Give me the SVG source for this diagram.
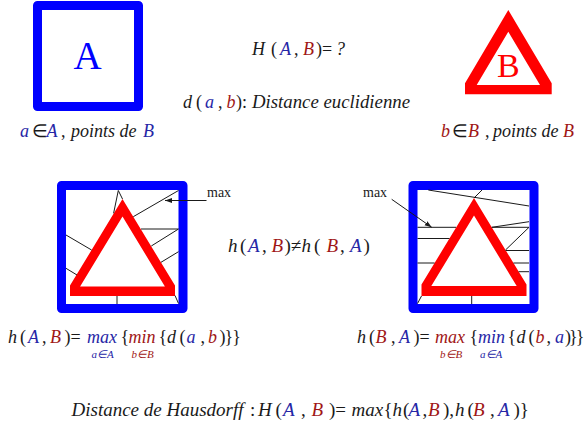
<svg xmlns="http://www.w3.org/2000/svg" width="586" height="425" viewBox="0 0 586 425">
<style>
.m{font-family:"Liberation Serif","Times New Roman",serif;font-style:italic;font-size:18px;fill:#1a1a1a}
.big{font-size:19px}
.s{font-size:11px}
.u{font-style:normal}
.bl{fill:#2626a6}
.rd{fill:#a01616}
.sq{fill:none;stroke:#0000ff;stroke-width:9;stroke-linejoin:round}
.tri{fill:#ff0000;fill-rule:evenodd}
.ln{stroke:#1a1a1a;stroke-width:1;fill:none}
.lbl{font-family:"Liberation Serif","Times New Roman",serif;font-size:14px;fill:#1a1a1a}
</style>
<defs>
<marker id="ah" markerUnits="userSpaceOnUse" markerWidth="8" markerHeight="6" refX="7" refY="2.5" orient="auto">
<path d="M0,0 L7,2.5 L0,5 Z" fill="#1a1a1a"/>
</marker>
</defs>

<g id="setA">
<rect class="sq" x="37.5" y="5.5" width="101" height="101"/>
<text x="87.5" y="69" text-anchor="middle" font-family="Liberation Serif, serif" font-size="39" fill="#0000ff">A</text>
</g>

<g id="setB">
<path class="tri" d="M508.3,10 L551.7,83.3 L551.7,94.3 L465,94.3 L465,83.3 Z M508.3,31.7 L540,85 L476.7,85 Z"/>
<text x="508.3" y="76.7" text-anchor="middle" font-family="Liberation Serif, serif" font-size="34" fill="#ff0000">B</text>
</g>

<g id="hAB-figure">
<rect class="sq" x="61.5" y="185.5" width="121.5" height="123"/>
<path class="tri" d="M122.5,199 L175,285.6 L175,296 L70,296 L70,285.6 Z M122.5,216.5 L164.9,286.5 L80.1,286.5 Z"/>
<text class="lbl" x="207" y="197">max</text>
</g>

<g id="hBA-figure">
<rect class="sq" x="413" y="185.5" width="121" height="123"/>
<path class="tri" d="M474,198 L526.5,284.6 L526.5,296 L421.5,296 L421.5,284.6 Z M474,215.5 L516.7,286 L431.3,286 Z"/>
<text class="lbl" x="363" y="197">max</text>
</g>

<g id="connectors">
<line class="ln" x1="118.3" y1="190.5" x2="122.5" y2="199"/>
<line class="ln" x1="118.3" y1="190.5" x2="113.6" y2="213.3"/>
<line class="ln" x1="178.5" y1="190.5" x2="133.3" y2="216.7"/>
<line class="ln" x1="141" y1="229" x2="178.5" y2="229"/>
<line class="ln" x1="178.5" y1="229" x2="151.3" y2="246"/>
<line class="ln" x1="178.5" y1="251.7" x2="161" y2="262.3"/>
<line class="ln" x1="175" y1="295.5" x2="178.5" y2="303.5"/>
<line class="ln" x1="117" y1="296" x2="117" y2="304"/>
<line class="ln" x1="66" y1="235" x2="91.6" y2="250"/>
<line class="ln" x1="66" y1="268.3" x2="77" y2="275"/>
<line class="ln" x1="206.5" y1="200.5" x2="165" y2="200.5" marker-end="url(#ah)"/>

<line class="ln" x1="428.3" y1="190" x2="529" y2="206"/>
<line class="ln" x1="474" y1="198" x2="482" y2="190"/>
<line class="ln" x1="417.5" y1="227.3" x2="456" y2="227.3"/>
<line class="ln" x1="491.8" y1="227.3" x2="529" y2="227.3"/>
<line class="ln" x1="491.8" y1="227.3" x2="529" y2="221.7"/>
<line class="ln" x1="505.5" y1="250" x2="529" y2="227.3"/>
<line class="ln" x1="417.5" y1="238.5" x2="449.5" y2="238.5"/>
<line class="ln" x1="505.8" y1="250.5" x2="529" y2="250.5"/>
<line class="ln" x1="417.5" y1="263" x2="434.6" y2="263"/>
<line class="ln" x1="513.4" y1="263" x2="529" y2="263"/>
<line class="ln" x1="518.6" y1="271.7" x2="529" y2="271.7"/>
<line class="ln" x1="471.7" y1="296" x2="471.7" y2="304"/>
<line class="ln" x1="421.5" y1="296" x2="417.5" y2="303.5"/>
<line class="ln" x1="391.7" y1="199.3" x2="431.7" y2="227.3" marker-end="url(#ah)"/>
</g>

<g id="texts">
<text class="m" y="55"><tspan x="252">H</tspan><tspan x="271" class="u">(</tspan><tspan x="280" class="bl">A</tspan><tspan x="294" class="u">,</tspan><tspan x="303" class="rd">B</tspan><tspan x="316" class="u">)=</tspan><tspan x="336">?</tspan></text>

<text class="m" y="108"><tspan x="183">d</tspan><tspan x="196" class="u">(</tspan><tspan x="205" class="bl">a</tspan><tspan x="218" class="u">,</tspan><tspan x="226.5" class="rd">b</tspan><tspan x="236" class="u">):</tspan><tspan x="252" font-size="18.8px">Distance euclidienne</tspan></text>

<text class="m" y="137"><tspan x="20" class="bl">a</tspan><tspan x="31.5" class="u">∈</tspan><tspan x="46.5" class="bl">A</tspan><tspan x="61" class="u">,</tspan><tspan x="71">points de</tspan><tspan x="143" class="bl">B</tspan></text>

<text class="m" y="137"><tspan x="441" class="rd">b</tspan><tspan x="452" class="u">∈</tspan><tspan x="468" class="rd">B</tspan><tspan x="485" class="u">,</tspan><tspan x="493">points de</tspan><tspan x="563" class="rd">B</tspan></text>

<text class="m big" y="252"><tspan x="228">h</tspan><tspan x="240" class="u">(</tspan><tspan x="248" class="bl">A</tspan><tspan x="262" class="u">,</tspan><tspan x="271.5" class="rd">B</tspan><tspan x="284.5" class="u">)≠</tspan><tspan x="301.5">h</tspan><tspan x="314" class="u">(</tspan><tspan x="326.5" class="rd">B</tspan><tspan x="340" class="u">,</tspan><tspan x="350" class="bl">A</tspan><tspan x="363.5" class="u">)</tspan></text>

<text class="m" y="343"><tspan x="8">h</tspan><tspan x="20" class="u">(</tspan><tspan x="28" class="bl">A</tspan><tspan x="42" class="u">,</tspan><tspan x="50" class="rd">B</tspan><tspan x="64.5" class="u">)=</tspan><tspan x="87" class="bl">max</tspan><tspan x="120.5" class="u">{</tspan><tspan x="128.5" class="rd">min</tspan><tspan x="158.5" class="u">{</tspan><tspan x="167">d</tspan><tspan x="179.5" class="u">(</tspan><tspan x="186.5" class="bl">a</tspan><tspan x="200.5" class="u">,</tspan><tspan x="208" class="rd">b</tspan><tspan x="219.5" class="u" letter-spacing="-1">)}}</tspan></text>
<text class="m s bl" x="91.5" y="358">a∈A</text>
<text class="m s rd" x="131.5" y="358">b∈B</text>

<text class="m" y="343"><tspan x="357">h</tspan><tspan x="369" class="u">(</tspan><tspan x="375.5" class="rd">B</tspan><tspan x="391" class="u">,</tspan><tspan x="399" class="bl">A</tspan><tspan x="413.5" class="u">)=</tspan><tspan x="435" class="rd">max</tspan><tspan x="469.5" class="u">{</tspan><tspan x="478" class="bl">min</tspan><tspan x="507.5" class="u">{</tspan><tspan x="516.5">d</tspan><tspan x="528.5" class="u">(</tspan><tspan x="535.5" class="rd">b</tspan><tspan x="546.5" class="u">,</tspan><tspan x="555" class="bl">a</tspan><tspan x="565" class="u" letter-spacing="-2">)}}</tspan></text>
<text class="m s rd" x="440" y="358">b∈B</text>
<text class="m s bl" x="480" y="358">a∈A</text>

<text class="m big" y="416"><tspan x="71.5">Distance de Hausdorff</tspan><tspan x="250" class="u">:</tspan><tspan x="258">H</tspan><tspan x="275.5" class="u">(</tspan><tspan x="283" class="bl">A</tspan><tspan x="301" class="u">,</tspan><tspan x="311.5" class="rd">B</tspan><tspan x="329" class="u">)=</tspan><tspan x="351.5">max</tspan><tspan x="383.5" class="u">{</tspan><tspan x="392.5">h</tspan><tspan x="403" class="u">(</tspan><tspan x="408.5" class="bl">A</tspan><tspan x="422.5" class="u">,</tspan><tspan x="428" class="rd">B</tspan><tspan x="443" class="u">),</tspan><tspan x="455">h</tspan><tspan x="467.5" class="u">(</tspan><tspan x="473" class="rd">B</tspan><tspan x="490" class="u">,</tspan><tspan x="498" class="bl">A</tspan><tspan x="513.5" class="u">)}</tspan></text>
</g>
</svg>
